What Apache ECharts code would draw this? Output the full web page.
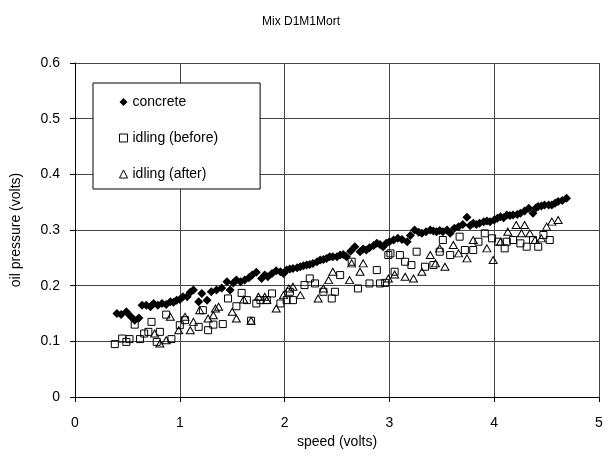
<!DOCTYPE html>
<html>
<head>
<meta charset="utf-8">
<script src="https://cdn.jsdelivr.net/npm/echarts@6/dist/echarts.min.js"></script>
<style>html,body{margin:0;padding:0;background:#fff}#c{width:608px;height:460px}</style>
</head>
<body>
<div id="c"></div>
<script>
var titleText = "Mix D1M1Mort";
var xAxisName = "speed (volts)";
var yAxisName = "oil pressure (volts)";
var seriesNames = ["concrete", "idling (before)", "idling (after)"];

var concrete = [
[0.40,0.150],[0.44,0.148],[0.49,0.153],[0.53,0.145],[0.57,0.138],[0.61,0.142],[0.64,0.165],[0.68,0.165],
[0.72,0.162],[0.75,0.168],[0.79,0.165],[0.83,0.168],[0.87,0.166],[0.91,0.171],[0.94,0.170],[0.97,0.174],
[1.00,0.175],[1.03,0.180],[1.07,0.180],[1.10,0.188],[1.13,0.192],[1.18,0.171],[1.21,0.186],[1.26,0.174],
[1.30,0.189],[1.35,0.192],[1.40,0.196],[1.45,0.207],[1.48,0.192],[1.51,0.205],[1.54,0.210],[1.58,0.207],
[1.62,0.210],[1.66,0.214],[1.69,0.219],[1.73,0.224],[1.78,0.213],[1.81,0.219],[1.84,0.216],[1.88,0.222],
[1.92,0.227],[1.96,0.225],[1.99,0.222],[2.02,0.228],[2.05,0.230],[2.08,0.231],[2.12,0.232],[2.15,0.234],
[2.18,0.236],[2.21,0.237],[2.24,0.238],[2.27,0.240],[2.31,0.243],[2.34,0.246],[2.37,0.247],[2.40,0.249],
[2.43,0.252],[2.46,0.252],[2.50,0.252],[2.53,0.255],[2.56,0.256],[2.59,0.252],[2.63,0.262],[2.67,0.270],
[2.72,0.261],[2.75,0.266],[2.78,0.264],[2.81,0.268],[2.85,0.272],[2.88,0.276],[2.91,0.274],[2.94,0.270],
[2.97,0.276],[3.00,0.279],[3.04,0.282],[3.08,0.285],[3.12,0.283],[3.17,0.279],[3.20,0.290],[3.24,0.300],
[3.28,0.296],[3.31,0.294],[3.35,0.297],[3.39,0.300],[3.42,0.298],[3.45,0.297],[3.48,0.299],[3.51,0.297],
[3.55,0.300],[3.58,0.294],[3.62,0.303],[3.66,0.306],[3.70,0.310],[3.74,0.323],[3.77,0.308],[3.80,0.312],
[3.83,0.310],[3.86,0.312],[3.90,0.315],[3.93,0.316],[3.96,0.315],[4.00,0.318],[4.03,0.321],[4.06,0.324],
[4.09,0.322],[4.12,0.327],[4.15,0.326],[4.18,0.327],[4.22,0.328],[4.25,0.330],[4.29,0.334],[4.33,0.339],
[4.37,0.330],[4.40,0.340],[4.42,0.342],[4.45,0.343],[4.48,0.345],[4.52,0.345],[4.55,0.345],[4.58,0.348],
[4.61,0.351],[4.65,0.353],[4.69,0.357]
];

var idlingBefore = [
[0.38,0.095],[0.45,0.105],[0.49,0.099],[0.52,0.104],[0.57,0.130],[0.62,0.104],[0.66,0.114],[0.70,0.117],
[0.73,0.135],[0.78,0.099],[0.81,0.117],[0.87,0.148],[0.92,0.104],[1.00,0.129],[1.05,0.138],[1.18,0.126],
[1.22,0.156],[1.27,0.120],[1.32,0.130],[1.41,0.131],[1.46,0.177],[1.54,0.163],[1.59,0.187],[1.64,0.174],
[1.68,0.137],[1.73,0.168],[1.77,0.174],[1.83,0.174],[1.88,0.186],[1.96,0.168],[2.02,0.174],[2.05,0.189],
[2.08,0.174],[2.19,0.201],[2.24,0.213],[2.29,0.204],[2.37,0.189],[2.45,0.177],[2.48,0.189],[2.53,0.219],
[2.64,0.243],[2.70,0.195],[2.81,0.204],[2.88,0.228],[2.91,0.204],[2.96,0.205],[2.99,0.255],[3.01,0.258],
[3.05,0.225],[3.10,0.255],[3.15,0.243],[3.21,0.237],[3.26,0.261],[3.34,0.234],[3.42,0.237],[3.48,0.261],
[3.51,0.282],[3.58,0.255],[3.67,0.288],[3.72,0.264],[3.80,0.264],[3.85,0.279],[3.91,0.294],[3.98,0.285],
[4.04,0.279],[4.10,0.267],[4.12,0.279],[4.18,0.282],[4.25,0.276],[4.31,0.270],[4.37,0.282],[4.42,0.270],
[4.47,0.291],[4.53,0.282]
];

var idlingAfter = [
[0.76,0.114],[0.81,0.096],[0.87,0.102],[0.91,0.144],[0.99,0.120],[1.05,0.144],[1.10,0.120],[1.13,0.135],
[1.19,0.156],[1.27,0.141],[1.32,0.147],[1.34,0.159],[1.37,0.162],[1.50,0.153],[1.54,0.141],[1.61,0.175],
[1.68,0.137],[1.75,0.180],[1.81,0.180],[1.83,0.174],[1.92,0.159],[1.99,0.183],[2.04,0.195],[2.08,0.198],
[2.15,0.183],[2.32,0.177],[2.37,0.195],[2.42,0.210],[2.46,0.225],[2.62,0.210],[2.64,0.240],[2.72,0.225],
[2.75,0.240],[2.99,0.213],[3.05,0.220],[3.15,0.216],[3.23,0.213],[3.31,0.225],[3.39,0.255],[3.44,0.240],
[3.48,0.267],[3.53,0.234],[3.61,0.273],[3.66,0.258],[3.74,0.249],[3.80,0.282],[3.93,0.267],[3.99,0.246],
[4.06,0.279],[4.13,0.297],[4.21,0.309],[4.26,0.294],[4.29,0.309],[4.34,0.294],[4.39,0.282],[4.45,0.285],
[4.50,0.306],[4.55,0.315],[4.61,0.318]
];

var chart = echarts.init(document.getElementById('c'), null, {renderer: 'canvas'});
var font = 'Liberation Sans, Arial, sans-serif';
var gridColor = '#444';
var hollow = {color: 'rgba(255,255,255,0)', borderColor: '#000', borderWidth: 1, opacity: 1};
chart.setOption({
  animation: false,
  backgroundColor: '#fff',
  title: {
    text: titleText, left: 296, top: 11, textAlign: 'center',
    textStyle: {fontFamily: font, fontSize: 12, fontWeight: 'normal', color: '#000'}
  },
  legend: {
    orient: 'vertical', left: 93, top: 83,
    backgroundColor: '#fff', borderColor: '#000', borderWidth: 1,
    padding: [12, 42, 8, 26],
    itemWidth: 8, itemHeight: 8, itemGap: 22,
    textStyle: {fontFamily: font, fontSize: 14, color: '#000'},
    data: [
      {name: seriesNames[0], icon: 'diamond', itemStyle: {color: '#000', borderWidth: 0}},
      {name: seriesNames[1], icon: 'rect', itemStyle: {color: 'rgba(255,255,255,0)', borderColor: '#000', borderWidth: 1}},
      {name: seriesNames[2], icon: 'triangle', itemStyle: {color: 'rgba(255,255,255,0)', borderColor: '#000', borderWidth: 1}}
    ]
  },
  grid: {left: 75, right: 9, top: 63, bottom: 63},
  xAxis: {
    type: 'value', min: 0, max: 5, interval: 1,
    name: xAxisName, nameLocation: 'middle', nameGap: 37,
    nameTextStyle: {fontFamily: font, fontSize: 14, color: '#000'},
    axisLine: {show: true, onZero: false, lineStyle: {color: '#000', width: 1}},
    axisTick: {show: true, length: 5, inside: false, lineStyle: {color: '#000'}},
    axisLabel: {fontFamily: font, fontSize: 14, color: '#000', margin: 19},
    splitLine: {show: true, lineStyle: {color: gridColor, width: 1}}
  },
  yAxis: {
    type: 'value', min: 0, max: 0.6, interval: 0.1,
    name: yAxisName, nameLocation: 'middle', nameGap: 52,
    nameTextStyle: {fontFamily: font, fontSize: 14, color: '#000'},
    axisLine: {show: true, onZero: false, lineStyle: {color: '#000', width: 1}},
    axisTick: {show: true, length: 5, inside: false, lineStyle: {color: '#000'}},
    axisLabel: {fontFamily: font, fontSize: 14, color: '#000', margin: 15},
    splitLine: {show: true, lineStyle: {color: gridColor, width: 1}}
  },
  series: [
    {
      name: seriesNames[1], type: 'scatter', data: idlingBefore,
      symbol: 'rect', symbolSize: 7, itemStyle: hollow
    },
    {
      name: seriesNames[2], type: 'scatter', data: idlingAfter,
      symbol: 'triangle', symbolSize: [8, 7], itemStyle: hollow
    },
    {
      name: seriesNames[0], type: 'scatter', data: concrete,
      symbol: 'diamond', symbolSize: 9,
      itemStyle: {color: '#000', opacity: 1}
    }
  ]
});
</script>
</body>
</html>
